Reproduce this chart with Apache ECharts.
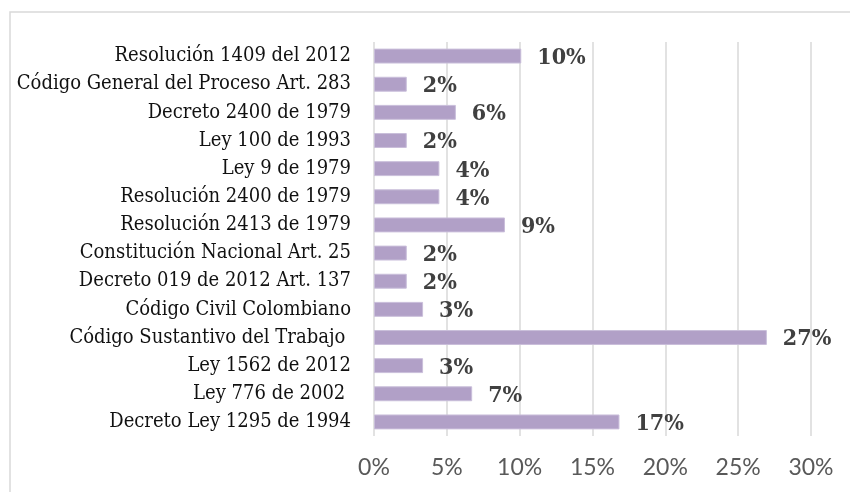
<!DOCTYPE html>
<html>
<head>
<meta charset="utf-8">
<script src="https://cdn.jsdelivr.net/npm/echarts@6/dist/echarts.min.js"></script>
<style>
  html, body { margin: 0; padding: 0; background: #fff; }
  #chart { width: 850px; height: 492px; }
</style>
</head>
<body>
<div id="chart"></div>
<script>
// Normas (de arriba hacia abajo)
const normas = [
	"Resolución 1409 del 2012",
	"Código General del Proceso Art. 283",
	"Decreto 2400 de 1979",
	"Ley 100 de 1993",
	"Ley 9 de 1979",
	"Resolución 2400 de 1979",
	"Resolución 2413 de 1979",
	"Constitución Nacional Art. 25",
	"Decreto 019 de 2012 Art. 137",
	"Código Civil Colombiano",
	"Código Sustantivo del Trabajo ",
	"Ley 1562 de 2012",
	"Ley 776 de 2002 ",
	"Decreto Ley 1295 de 1994",
];
// porcentajes
const porcentajes = [10.11, 2.25, 5.62, 2.25, 4.49, 4.49, 8.99, 2.25, 2.25, 3.37, 26.97, 3.37, 6.74, 16.85];
const ejeMax = 30;
const ejePaso = 5;

const chart = echarts.init(document.getElementById("chart"));
chart.setOption({
	animation: false,
	backgroundColor: "#fff",
	graphic: [
		{
			type: "rect",
			shape: { x: 10, y: 12, width: 900, height: 600 },
			style: { fill: "none", stroke: "#D9D9D9", lineWidth: 1.5 },
			z: -1,
		},
	],
	grid: { left: 374, right: 39, top: 42, bottom: 56 },
	xAxis: {
		type: "value",
		min: 0,
		max: ejeMax,
		interval: ejePaso,
		axisLine: { show: false },
		axisTick: { show: false },
		splitLine: { lineStyle: { color: "#D9D9D9", width: 1.5 } },
		axisLabel: {
			formatter: "{value}%",
			color: "#595959",
			fontFamily: "Lato",
			fontSize: 23,
			margin: 20,
		},
	},
	yAxis: {
		type: "category",
		data: normas,
		inverse: true,
		axisLine: { show: false },
		axisTick: { show: false },
		axisLabel: {
			interval: 0,
			color: "#111",
			fontFamily: "DejaVu Serif Condensed",
			fontSize: 20,
			margin: 23,
		},
	},
	series: [
		{
			type: "bar",
			data: porcentajes,
			barCategoryGap: "47%",
			itemStyle: { color: "#B1A0C7", borderColor: "#C9BEDA", borderWidth: 1 },
			label: {
				show: true,
				position: "right",
				distance: 16,
				offset: [0, 2],
				formatter: (p) => Math.round(p.value) + "%",
				color: "#404040",
				fontFamily: "DejaVu Serif Condensed",
				fontWeight: "bold",
				fontSize: 23,
			},
		},
	],
});
</script>
</body>
</html>
